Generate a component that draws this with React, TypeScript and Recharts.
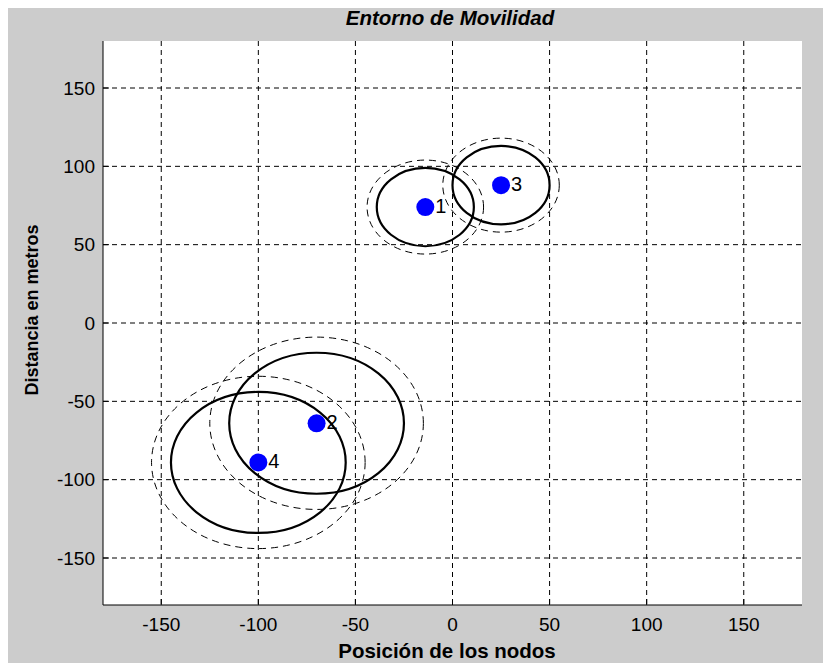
import { CartesianGrid, Scatter, ScatterChart, XAxis, YAxis } from "recharts";

// Nodes (metres).
const nodeIds = [1, 2, 3, 4];
const nodeX = [-14, -70, 25, -100];
const nodeY = [74, -64, 88, -89];
// Coverage radius (solid) and outer range (dashed) for each node.
const innerRadius = [25, 45, 25, 45];
const outerRadius = [30, 55, 30, 55];

const axisTicks = [-150, -100, -50, 0, 50, 100, 150];
const DOMAIN: [number, number] = [-180, 180];

const W = 823;
const H = 655;
const MARGIN = { top: 33, right: 29, bottom: 28, left: 35 };
const Y_AXIS_W = 60;
const X_AXIS_H = 30;
const PLOT_W = W - MARGIN.left - MARGIN.right - Y_AXIS_W;
const PLOT_H = H - MARGIN.top - MARGIN.bottom - X_AXIS_H;
const SPAN = DOMAIN[1] - DOMAIN[0];

const FONT = "'Liberation Sans', Arial, Helvetica, sans-serif";

const nodes = nodeIds.map((id, i) => ({ id, x: nodeX[i], y: nodeY[i] }));
const innerRings = nodeIds.map((id, i) => ({ id, x: nodeX[i], y: nodeY[i], r: innerRadius[i] }));
const outerRings = nodeIds.map((id, i) => ({ id, x: nodeX[i], y: nodeY[i], r: outerRadius[i] }));

// pixels per metre on each axis (use the axis scale if recharts hands it over)
function unitPx(props: any) {
  const xs = props.xAxis?.scale;
  const ys = props.yAxis?.scale;
  if (typeof xs === "function" && typeof ys === "function") {
    return {
      px: Math.abs(xs(1) - xs(0)),
      py: Math.abs(ys(1) - ys(0)),
    };
  }
  return { px: PLOT_W / SPAN, py: PLOT_H / SPAN };
}

function ring(dashed: boolean) {
  return (props: any) => {
    const { cx, cy, payload } = props;
    const { px, py } = unitPx(props);
    return (
      <ellipse
        cx={cx}
        cy={cy}
        rx={payload.r * px}
        ry={payload.r * py}
        fill="none"
        stroke="#000"
        strokeWidth={dashed ? 1 : 2.2}
        strokeDasharray={dashed ? "7 5" : undefined}
      />
    );
  };
}

function NodeDot(props: any) {
  const { cx, cy, payload } = props;
  return (
    <g>
      <circle cx={cx} cy={cy} r={9} fill="#0000ff" />
      <text x={cx + 10} y={cy + 6} fontSize={20} fontFamily={FONT} fill="#000">
        {payload.id}
      </text>
    </g>
  );
}

// grid only at the tick values, never on the plot's edges
const gridX = ({ xAxis, offset }: any) =>
  axisTicks.map((t) =>
    typeof xAxis?.scale === "function"
      ? xAxis.scale(t)
      : offset.left + ((t - DOMAIN[0]) / SPAN) * offset.width
  );
const gridY = ({ yAxis, offset }: any) =>
  axisTicks.map((t) =>
    typeof yAxis?.scale === "function"
      ? yAxis.scale(t)
      : offset.top + ((DOMAIN[1] - t) / SPAN) * offset.height
  );

export default function App() {
  const tick = { fill: "#000", fontSize: 19, fontFamily: FONT };
  return (
    <div style={{ position: "relative", width: W, height: H }}>
      <svg
        width={831}
        height={663}
        style={{ position: "absolute", left: -8, top: -8, overflow: "visible" }}
      >
        <text x={-17} y={7} fontSize={28} fontFamily={FONT} fill="#000">
          Simulación de nodos no homogéneos
        </text>
      </svg>
      <div
        style={{ position: "absolute", left: 0, top: 0, width: W, height: H, background: "#cccccc" }}
      >
        <ScatterChart width={W} height={H} margin={MARGIN}>
          <CartesianGrid
            fill="#ffffff"
            fillOpacity={1}
            stroke="#000"
            strokeDasharray="5 4"
            verticalCoordinatesGenerator={gridX}
            horizontalCoordinatesGenerator={gridY}
          />
          <XAxis
            type="number"
            dataKey="x"
            domain={DOMAIN}
            ticks={axisTicks}
            height={X_AXIS_H}
            allowDataOverflow
            tick={tick}
            tickSize={-6}
            tickMargin={19}
            axisLine={{ stroke: "#000" }}
            tickLine={{ stroke: "#000" }}
          />
          <YAxis
            type="number"
            dataKey="y"
            domain={DOMAIN}
            ticks={axisTicks}
            width={Y_AXIS_W}
            allowDataOverflow
            tick={tick}
            tickSize={-6}
            tickMargin={14}
            axisLine={{ stroke: "#000" }}
            tickLine={{ stroke: "#000" }}
          />
          <Scatter data={outerRings} shape={ring(true)} isAnimationActive={false} />
          <Scatter data={innerRings} shape={ring(false)} isAnimationActive={false} />
          <Scatter data={nodes} shape={NodeDot} isAnimationActive={false} />
        </ScatterChart>
      </div>
      <svg
        width={831}
        height={663}
        style={{ position: "absolute", left: -8, top: -8, overflow: "visible", pointerEvents: "none" }}
      >
        <text
          x={450}
          y={25}
          textAnchor="middle"
          fontSize={20.5}
          fontWeight="bold"
          fontStyle="italic"
          fontFamily={FONT}
          fill="#000"
        >
          Entorno de Movilidad
        </text>
        <text
          x={447}
          y={658}
          textAnchor="middle"
          fontSize={20.5}
          fontWeight="bold"
          fontFamily={FONT}
          fill="#000"
        >
          Posición de los nodos
        </text>
        <text
          x={38}
          y={310}
          textAnchor="middle"
          transform="rotate(-90 38 310)"
          fontSize={18}
          fontWeight="bold"
          fontFamily={FONT}
          fill="#000"
        >
          Distancia en metros
        </text>
      </svg>
    </div>
  );
}
